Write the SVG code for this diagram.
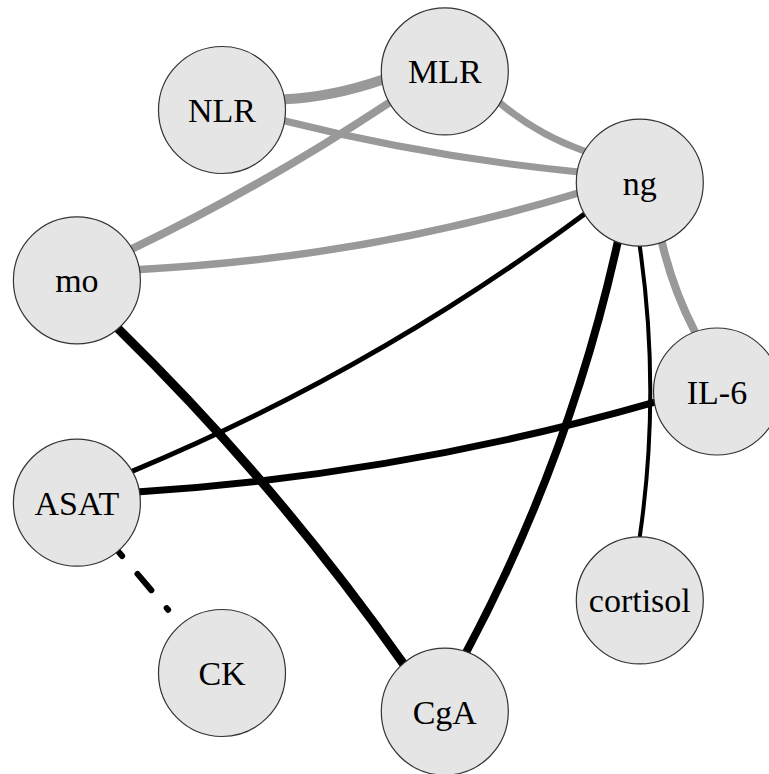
<svg xmlns="http://www.w3.org/2000/svg" width="769" height="774" viewBox="0 0 769 774">
<style>
.e{fill:none;stroke-linecap:round}
.g{stroke:#999999}
.k{stroke:#000000}
.n circle{fill:#e5e5e5;stroke:#333333;stroke-width:1.2}
.n text{font-family:'Liberation Serif','DejaVu Serif',serif;font-size:34px;fill:#000;text-anchor:middle}
</style>
<rect width="769" height="774" fill="#ffffff"/>
<g id="edges">
<path class="e g" stroke-width="10" d="M285,99.3 Q332,97 381.7,80"/>
<path class="e g" stroke-width="7" d="M285,121 Q428.9,157.2 576.7,171.7"/>
<path class="e g" stroke-width="7" d="M499.9,103 Q537.6,134.8 584.2,151"/>
<path class="e g" stroke-width="8" d="M388.7,103 Q265.5,184.6 132.5,248.7"/>
<path class="e g" stroke-width="7.5" d="M139.9,269.4 Q363,258 576.8,193.5"/>
<path class="e g" stroke-width="8" d="M662,242.6 Q672.8,289 694.8,331.5"/>
<path class="e k" stroke-width="9" d="M118.4,329 Q275.8,482.9 402.8,662.9"/>
<path class="e k" stroke-width="5" d="M132.5,471.1 Q374.2,370.5 584.2,214.2"/>
<path class="e k" stroke-width="7" d="M139.9,491.8 Q401.7,474.7 654,402.4"/>
<path class="e k" stroke-width="8" d="M617.6,242.6 Q570.1,457.5 466.5,651.6"/>
<path class="e k" stroke-width="4" d="M639.8,246.6 Q660.8,391.5 639.8,536.4"/>
<path class="e k" stroke-width="6" stroke-dasharray="21.4 23.6" stroke-dashoffset="15.8" d="M118.5,551.7 L168.1,609.8"/>
</g>
<g id="node-IL6" class="n"><circle cx="717" cy="391.5" r="63.5"/><text x="717" y="403.5">IL-6</text></g>
<g id="node-ng" class="n"><circle cx="639.8" cy="182.6" r="63.5"/><text x="639.8" y="194.6">ng</text></g>
<g id="node-MLR" class="n"><circle cx="444.8" cy="71.4" r="63.5"/><text x="444.8" y="83.4">MLR</text></g>
<g id="node-NLR" class="n"><circle cx="222" cy="110" r="63.5"/><text x="222" y="122">NLR</text></g>
<g id="node-mo" class="n"><circle cx="76.9" cy="280.3" r="63.5"/><text x="76.9" y="292.3">mo</text></g>
<g id="node-ASAT" class="n"><circle cx="76.9" cy="502.7" r="63.5"/><text x="76.9" y="514.7">ASAT</text></g>
<g id="node-CK" class="n"><circle cx="222" cy="673" r="63.5"/><text x="222" y="685">CK</text></g>
<g id="node-CgA" class="n"><circle cx="444.8" cy="711.6" r="63.5"/><text x="444.8" y="723.6">CgA</text></g>
<g id="node-cortisol" class="n"><circle cx="639.8" cy="600.4" r="63.5"/><text x="639.8" y="612.4">cortisol</text></g>
</svg>
